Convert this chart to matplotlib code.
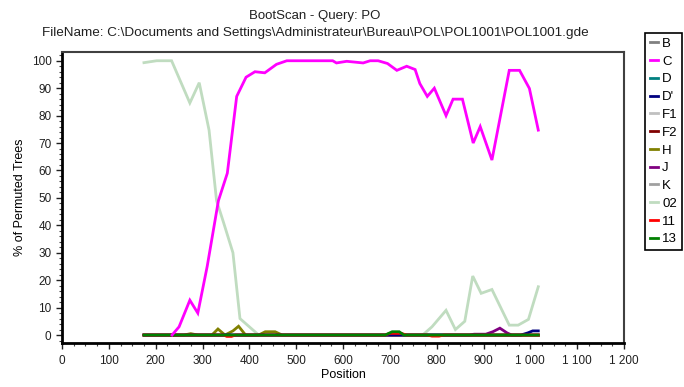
import matplotlib
matplotlib.use("Agg")
import matplotlib.pyplot as plt
from matplotlib.ticker import MultipleLocator, FuncFormatter

plt.rcParams['font.family'] = ['Liberation Sans', 'DejaVu Sans']

title1 = "BootScan - Query: PO"
title2 = "FileName: C:\\Documents and Settings\\Administrateur\\Bureau\\POL\\POL1001\\POL1001.gde"

series_names = ["B", "C", "D", "D'", "F1", "F2", "H", "J", "K", "02", "11", "13"]
series_colors = ["#808080", "#ff00ff", "#008080", "#000080", "#c0c0c0", "#800000",
                 "#808000", "#800080", "#a0a0a0", "#c0dcc0", "#ff0000", "#008000"]

x_start, x_end = 175, 1017

# C
pos_c = [235, 250, 273, 290, 310, 334, 353, 373, 393, 412, 433, 458, 480, 578, 586, 608,
         643, 658, 675, 695, 715, 736, 754, 764, 780, 795, 820, 835, 855, 878, 893, 918,
         955, 977, 998, 1017]
val_c = [0, 3, 12.7, 8, 25, 49, 59, 87, 94, 96, 95.6, 98.7, 100, 100, 99.2, 99.8,
         99.2, 100, 100, 99, 96.5, 98, 96.8, 91.7, 87, 90, 80, 86, 86, 70, 76, 63.8,
         96.5, 96.5, 89.9, 74.7]

# 02
pos_02 = [175, 202, 234, 273, 293, 314, 330, 345, 365, 380, 400, 420, 770, 790, 820,
          840, 860, 877, 895, 918, 955, 974, 996, 1017]
val_02 = [99.3, 100, 100, 84.6, 92, 74.7, 49, 41, 30, 6, 3, 0, 0, 3, 9,
          2, 5, 21.5, 15.2, 16.6, 3.6, 3.6, 5.7, 17.6]

# H
pos_h = [175, 260, 275, 290, 320, 333, 348, 365, 377, 392, 420, 434, 455, 470, 1017]
val_h = [0, 0, 0.5, 0, 0, 2.2, 0, 1.5, 3.2, 0, 0, 1.2, 1.2, 0, 0]

# 11
pos_11 = [175, 345, 352, 362, 370, 690, 700, 725, 735, 780, 790, 805, 815, 1017]
val_11 = [0, 0, -0.5, -0.5, 0, 0, 0.6, 0.6, 0, 0, -0.4, -0.4, 0, 0]

# 13
pos_13 = [175, 690, 705, 720, 730, 1017]
val_13 = [0, 0, 1.2, 1.2, 0, 0]

# J
pos_j = [175, 870, 880, 905, 920, 935, 950, 960, 1017]
val_j = [0, 0, 0.3, 0.3, 1.2, 2.5, 0.8, 0, 0]

# D'
pos_dp = [175, 980, 995, 1005, 1017]
val_dp = [0, 0, 0.8, 1.5, 1.5]

# flat series
pos_flat = [x_start, x_end]
val_flat = [0, 0]

fig = plt.figure(figsize=(6.84, 3.87), dpi=100)
ax = fig.add_axes([62/684, 1-342.7/387, (624-62)/684, (342.7-51.7)/387])

data = {
    "B": (pos_flat, val_flat),
    "C": (pos_c, val_c),
    "D": (pos_flat, val_flat),
    "D'": (pos_dp, val_dp),
    "F1": (pos_flat, val_flat),
    "F2": (pos_flat, val_flat),
    "H": (pos_h, val_h),
    "J": (pos_j, val_j),
    "K": (pos_flat, val_flat),
    "02": (pos_02, val_02),
    "11": (pos_11, val_11),
    "13": (pos_13, val_13),
}

order = ["B", "D", "F1", "F2", "K", "02", "H", "J", "D'", "11", "13", "C"]
lines = {}
for name in order:
    col = series_colors[series_names.index(name)]
    px, py = data[name]
    ln, = ax.plot(px, py, color=col, lw=2.0, solid_joinstyle='miter', label=name)
    lines[name] = ln

ax.set_xlim(0, 1200)
ax.set_ylim(-2.8, 103.3)
ax.xaxis.set_major_locator(MultipleLocator(100))
ax.xaxis.set_minor_locator(MultipleLocator(25))
ax.yaxis.set_major_locator(MultipleLocator(10))
ax.yaxis.set_minor_locator(MultipleLocator(2))
ax.xaxis.set_major_formatter(FuncFormatter(lambda v, p: f"{int(v):,}".replace(",", " ")))
ax.tick_params(axis='both', which='major', direction='out', length=4, width=1,
               labelsize=8.5, colors='#202020')
ax.tick_params(axis='both', which='minor', direction='out', length=2, width=0.8,
               colors='#404040')
ax.tick_params(axis='x', pad=5)
for s in ['left', 'bottom']:
    ax.spines[s].set_linewidth(2)
    ax.spines[s].set_color('black')
for s in ['top', 'right']:
    ax.spines[s].set_linewidth(1.5)
    ax.spines[s].set_color('#404040')

ax.set_xlabel("Position", fontsize=9, labelpad=1)
ax.set_ylabel("% of Permuted Trees", fontsize=9, labelpad=4)

fig.text(315 / 684, 1 - 16/387, title1, ha='center', va='center', fontsize=9.5,
         color='#202020')
fig.text(315 / 684, 1 - 33/387, title2, ha='center', va='center', fontsize=9.7,
         color='#202020')

handles = [lines[n] for n in series_names]
leg = fig.legend(handles, series_names, loc='upper left',
                 bbox_to_anchor=(645/684, 1 - 33/387), fontsize=9.5,
                 handlelength=0.6, handletextpad=0.35, labelspacing=0.42,
                 borderpad=0.35, borderaxespad=0, fancybox=False, frameon=True,
                 framealpha=1)
leg.get_frame().set_edgecolor('black')
leg.get_frame().set_linewidth(1.2)

fig.savefig("out.png", dpi=100)
